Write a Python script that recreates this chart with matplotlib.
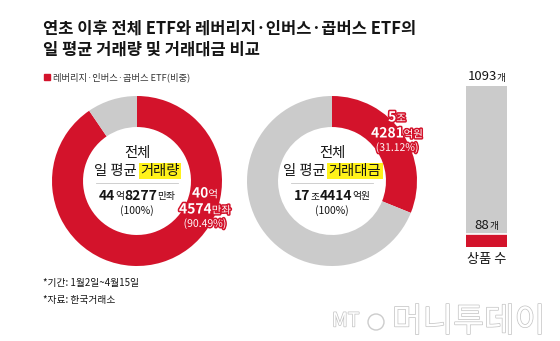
import matplotlib
matplotlib.use("Agg")
import matplotlib.pyplot as plt
import matplotlib.patheffects as pe

plt.rcParams['font.family'] = ['Noto Sans CJK KR', 'DejaVu Sans']

# ---- data ----
title_lines = ["연초 이후 전체 ETF와 레버리지·인버스·곱버스 ETF의",
               "일 평균 거래량 및 거래대금 비교"]
legend_label = "레버리지·인버스·곱버스 ETF(비중)"

volume_share = [90.49, 9.51]          # 레버리지·인버스·곱버스, 기타 (%)
value_share = [31.12, 68.88]
volume_total = ("44", "억", "8277", "만좌")
volume_lev = ("40", "억", "4574", "만좌")
value_total = ("17", "조", "4414", "억원")
value_lev = ("5", "조", "4281", "억원")

product_total = 1093
product_lev = 88

footnotes = ["*기간: 1월2일~4월15일", "*자료: 한국거래소"]

RED = '#d3132b'
GRAY = '#cbcbcb'
INK = '#151515'

W, H = 560, 341
fig = plt.figure(figsize=(W / 100, H / 100), dpi=100)


def px_axes(cx, cy, w, h):
    """Axes placed by pixel centre/size (y measured from the top)."""
    return fig.add_axes([(cx - w / 2) / W, 1 - (cy + h / 2) / H, w / W, h / H])


def donut(cx, cy, r, shares):
    ax = px_axes(cx, cy, 2 * r, 2 * r)
    ax.pie(shares, colors=[RED, GRAY], startangle=90, counterclock=False,
           radius=1, wedgeprops=dict(width=0.365, edgecolor='none'))
    ax.set_xlim(-1, 1)
    ax.set_ylim(-1, 1)
    ax.set_aspect('equal')
    ax.axis('off')
    return ax


donut(137, 181, 85, volume_share)
donut(332, 181, 85, value_share)

# product count bar
bar_top, bar_bottom, bar_l, bar_r = 86, 247, 466, 507
axb = fig.add_axes([bar_l / W, 1 - bar_bottom / H, (bar_r - bar_l) / W,
                    (bar_bottom - bar_top) / H])
axb.bar(0, product_lev, width=1, color=RED)
axb.bar(0, product_total - product_lev, bottom=product_lev, width=1, color=GRAY)
axb.axhline(product_lev, color='white', lw=1.2)
axb.set_xlim(-0.5, 0.5)
axb.set_ylim(0, product_total)
axb.axis('off')

# overlay in pixel coordinates for all text
ov = fig.add_axes([0, 0, 1, 1])
ov.set_xlim(0, W)
ov.set_ylim(H, 0)
ov.axis('off')
ov.patch.set_visible(False)

renderer = fig.canvas.get_renderer()


def rich(x, y, parts, va='baseline', ha='center', **common):
    texts = []
    for s, kw in parts:
        opts = dict(common)
        opts.update(kw)
        texts.append(ov.text(0, y, s, ha='left', va=va, **opts))
    widths = [t.get_window_extent(renderer).width for t in texts]
    start = x - sum(widths) / 2 if ha == 'center' else x
    for t, w in zip(texts, widths):
        t.set_x(start)
        start += w
    return texts


# title
for i, line in enumerate(title_lines):
    ov.text(43, 29 + i * 21, line, fontsize=11.9, fontweight='bold',
            color=INK, va='center', ha='left')

# legend
ov.add_patch(plt.Rectangle((44, 74), 6, 6, color=RED))
ov.text(53, 77, legend_label, fontsize=6.7, color='#333333', va='center', ha='left')

HL = dict(boxstyle='square,pad=0.1', facecolor='#fff21a', edgecolor='none')


def centre_block(cx, metric, total):
    ov.text(cx, 153, "전체", fontsize=10.3, color=INK, ha='center', va='center')
    rich(cx, 171, [("일 평균 ", {}), (metric, dict(bbox=HL))],
         va='center', fontsize=10.3, color=INK)
    ov.plot([cx - 41, cx + 41], [182.5, 182.5], color='#c8c8c8', lw=0.6)
    big, u1, big2, u2 = total
    rich(cx, 199.5, [(big, dict(fontsize=10, fontweight='bold')),
                     (u1, dict(fontsize=7)),
                     (big2, dict(fontsize=10, fontweight='bold')),
                     (u2, dict(fontsize=7))], color=INK)
    ov.text(cx, 211, "(100%)", fontsize=7.5, color=INK, ha='center', va='center')


centre_block(137, "거래량", volume_total)
centre_block(332, "거래대금", value_total)

STROKE = [pe.withStroke(linewidth=2.2, foreground=RED)]


def ring_label(cx, y0, vals, pct):
    big, u1, big2, u2 = vals
    rich(cx, y0, [(big, dict(fontsize=10, fontweight='bold')),
                  (u1, dict(fontsize=7.5))], color='white', path_effects=STROKE)
    rich(cx, y0 + 16, [(big2, dict(fontsize=10, fontweight='bold')),
                       (u2, dict(fontsize=7.5))], color='white', path_effects=STROKE)
    ov.text(cx, y0 + 26, f"({pct:.2f}%)", fontsize=7.5, color='white',
            ha='center', va='center', path_effects=STROKE)


ring_label(205, 197.5, volume_lev, volume_share[0])
ring_label(397, 121.5, value_lev, value_share[0])

# bar labels
bx = (bar_l + bar_r) / 2
rich(bx, 80.5, [(f"{product_total}", dict(fontsize=9.5)), ("개", dict(fontsize=7))],
     color=INK)
rich(bx, 229, [(f"{product_lev}", dict(fontsize=9.5)), ("개", dict(fontsize=7))],
     color=INK)
ov.text(bx, 260, "상품 수", fontsize=9.5, color=INK, ha='center', va='center')

# footnotes
for i, note in enumerate(footnotes):
    ov.text(43, 283 + i * 17, note, fontsize=7, color=INK, ha='left', va='center')

# masthead mark
ghost = [pe.withStroke(linewidth=1.0, foreground='#c2c2c2')]
ov.text(332, 321, "MT", fontsize=14, style='italic', color='white',
        ha='left', va='center', path_effects=ghost)
ov.add_patch(plt.Circle((376, 322), 8, fill=False, ec='#cccccc', lw=1.0))
ov.text(392, 322, "머니투데이", fontsize=24, color='white', ha='left', va='center',
        path_effects=ghost)

fig.savefig("out.png", dpi=100)
